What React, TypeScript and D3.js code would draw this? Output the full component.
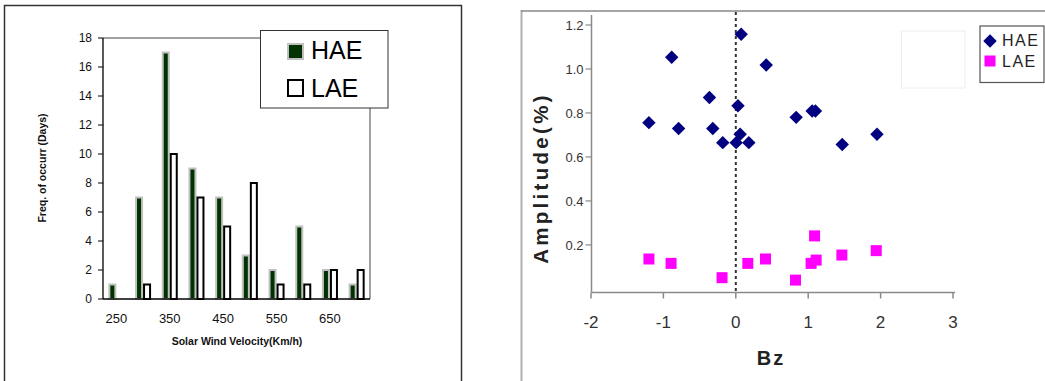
import React from "react";
import * as d3 from "d3";

// ---- Left chart data ----
const velocityCategories = [250, 300, 350, 400, 450, 500, 550, 600, 650, 700];
const haeFreq = [1, 7, 17, 9, 7, 3, 2, 5, 2, 1];
const laeFreq = [0, 1, 10, 7, 5, 8, 1, 1, 2, 2];
const freqTicks = [0, 2, 4, 6, 8, 10, 12, 14, 16, 18];
const velocityTickLabels = [250, 350, 450, 550, 650];
const barSeries = ["HAE", "LAE"];

// ---- Right chart data ----
const haeBz = [-1.2, -0.885, -0.79, -0.364, -0.318, -0.18, 0.005, 0.03, 0.06, 0.074, 0.18, 0.42, 0.834, 1.055, 1.1, 1.47, 1.95];
const haeAmp = [0.756, 1.053, 0.729, 0.87, 0.729, 0.665, 0.665, 0.833, 0.703, 1.158, 0.665, 1.018, 0.78, 0.809, 0.809, 0.657, 0.703];
const laeBz = [-1.2, -0.894, -0.19, 0.166, 0.41, 0.825, 1.088, 1.04, 1.11, 1.465, 1.94];
const laeAmp = [0.136, 0.116, 0.051, 0.116, 0.136, 0.04, 0.241, 0.116, 0.131, 0.154, 0.174];
const bzTicks = [-2, -1, 0, 1, 2, 3];
const ampTicks = [0.2, 0.4, 0.6, 0.8, 1.0, 1.2];

const FONT = "'Liberation Sans', Arial, Helvetica, sans-serif";

function LeftChart() {
  const L = 103, R = 370, T = 38, B = 299;
  const y = d3.scaleLinear().domain([0, 18]).range([B, T]);
  const x0 = d3
    .scaleBand<number>()
    .domain(velocityCategories)
    .range([L, R])
    .paddingInner(0.4)
    .paddingOuter(0.2);
  const x1 = d3.scaleBand<string>().domain(barSeries).range([0, x0.bandwidth()]);
  const sw = 2;
  return (
    <g fontFamily={FONT}>
      {/* panel frame */}
      <path d="M4.5,381 V5.5 H461.5 V381" fill="none" stroke="#333" strokeWidth={1.5} />
      {/* plot frame top/right */}
      <path d={`M${L},${T} H${R} V${B}`} fill="none" stroke="#444" strokeWidth={1} />
      {/* bars */}
      {velocityCategories.map((c, i) => {
        const bx = x0(c)!;
        const h = haeFreq[i];
        const l = laeFreq[i];
        return (
          <g key={c}>
            {h > 0 && (
              <rect
                x={bx + x1("HAE")! + sw / 2}
                y={y(h)}
                width={x1.bandwidth() - sw}
                height={y(0) - y(h)}
                fill="#003300"
                stroke="#c0c0c0"
                strokeWidth={sw}
              />
            )}
            {l > 0 && (
              <rect
                x={bx + x1("LAE")! + sw / 2}
                y={y(l)}
                width={x1.bandwidth() - sw}
                height={y(0) - y(l)}
                fill="#ffffff"
                stroke="#000"
                strokeWidth={sw}
              />
            )}
          </g>
        );
      })}
      {/* axes */}
      <line x1={L} x2={L} y1={T} y2={B} stroke="#000" strokeWidth={1.3} />
      <line x1={L} x2={R} y1={B} y2={B} stroke="#000" strokeWidth={1.3} />
      {freqTicks.map((t) => (
        <g key={t}>
          <line x1={L - 5} x2={L} y1={y(t)} y2={y(t)} stroke="#000" strokeWidth={1} />
          <text x={L - 11} y={y(t)} dy="0.36em" textAnchor="end" fontSize={12} fill="#111">
            {t}
          </text>
        </g>
      ))}
      {velocityTickLabels.map((t) => (
        <text key={t} x={x0(t)! + x0.bandwidth() / 2} y={323} textAnchor="middle" fontSize={13} fill="#111">
          {t}
        </text>
      ))}
      <text x={237} y={345} textAnchor="middle" fontSize={10.5} fontWeight="bold" fill="#111">
        Solar Wind Velocity(Km/h)
      </text>
      <text
        transform={`translate(45.5,168) rotate(-90)`}
        textAnchor="middle"
        fontSize={10.5}
        fontWeight="bold"
        fill="#111"
      >
        Freq. of occurr (Days)
      </text>
      {/* legend */}
      <rect x={260.5} y={30.5} width={127.5} height={77.5} fill="#fff" stroke="#333" strokeWidth={1} />
      <rect x={288} y={44} width={15} height={15} fill="#003300" stroke="#c0c0c0" strokeWidth={2} />
      <text x={311} y={59} fontSize={25} fill="#000">HAE</text>
      <rect x={288} y={80} width={15} height={16} fill="#fff" stroke="#000" strokeWidth={2} />
      <text x={311} y={96.5} fontSize={25} fill="#000">LAE</text>
    </g>
  );
}

function RightChart() {
  const L = 591.5, B = 292.5;
  const x = d3.scaleLinear().domain([-2, 3]).range([591, 953]);
  const y = d3.scaleLinear().domain([0, 1.2]).range([288.9, 25]);
  const diamond = d3.symbol().type(d3.symbolDiamond2).size(115)();
  const square = d3.symbol().type(d3.symbolSquare).size(121)();
  const fmt = d3.format(".1f");
  return (
    <g fontFamily={FONT}>
      {/* panel frame */}
      <line x1={521.5} x2={521.5} y1={10} y2={381} stroke="#b0b0b0" strokeWidth={2} />
      <line x1={521} x2={1045} y1={11} y2={11} stroke="#888" strokeWidth={1.5} />
      {/* faint empty box */}
      <rect x={901.5} y={31} width={63.5} height={57} fill="none" stroke="#eeeeee" strokeWidth={1} />
      {/* axes */}
      <line x1={L} x2={L} y1={15} y2={B} stroke="#8a8a8a" strokeWidth={1.5} />
      <line x1={L} x2={955} y1={B} y2={B} stroke="#8a8a8a" strokeWidth={1.5} />
      {bzTicks.map((t) => (
        <g key={t}>
          <line x1={x(t)} x2={x(t)} y1={B} y2={B + 6} stroke="#8a8a8a" strokeWidth={1.5} />
          <text x={x(t)} y={328} textAnchor="middle" fontSize={17} fill="#333">
            {t}
          </text>
        </g>
      ))}
      {ampTicks.map((t) => (
        <g key={t}>
          <line x1={L - 6} x2={L} y1={y(t)} y2={y(t)} stroke="#8a8a8a" strokeWidth={1.2} />
          <text x={583.5} y={y(t)} dy="0.36em" textAnchor="end" fontSize={13} fill="#333">
            {fmt(t)}
          </text>
        </g>
      ))}
      {/* zero dashed line */}
      <line x1={x(0)} x2={x(0)} y1={12} y2={B} stroke="#333" strokeWidth={2} strokeDasharray="3,3" />
      {/* points */}
      {haeBz.map((bz, i) => (
        <path key={"h" + i} d={diamond!} transform={`translate(${x(bz)},${y(haeAmp[i])})`} fill="#000080" />
      ))}
      {laeBz.map((bz, i) => (
        <path key={"l" + i} d={square!} transform={`translate(${x(bz)},${y(laeAmp[i])})`} fill="#ff00ff" />
      ))}
      {/* titles */}
      <text x={771} y={365} textAnchor="middle" fontSize={20} fontWeight="bold" letterSpacing={2} fill="#222">
        Bz
      </text>
      <text
        transform={`translate(548,178) rotate(-90)`}
        textAnchor="middle"
        fontSize={20.5}
        fontWeight="bold"
        letterSpacing={3.3}
        fill="#222"
      >
        Amplitude(%)
      </text>
      {/* legend */}
      <rect x={980} y={26} width={64} height={56.5} fill="#fff" stroke="#555" strokeWidth={1.2} />
      <path d={diamond!} transform="translate(990,41)" fill="#000080" />
      <text x={1002} y={45.5} fontSize={16} letterSpacing={1.5} fill="#222">HAE</text>
      <path d={square!} transform="translate(990,61)" fill="#ff00ff" />
      <text x={1002} y={66.5} fontSize={16} letterSpacing={1.5} fill="#222">LAE</text>
    </g>
  );
}

export default function App() {
  return (
    <div style={{ position: "absolute", left: 0, top: 0 }}>
      <svg width={1045} height={381} style={{ display: "block", background: "#fff" }}>
        <rect x={0} y={0} width={1045} height={381} fill="#fff" />
        <LeftChart />
        <RightChart />
      </svg>
    </div>
  );
}
